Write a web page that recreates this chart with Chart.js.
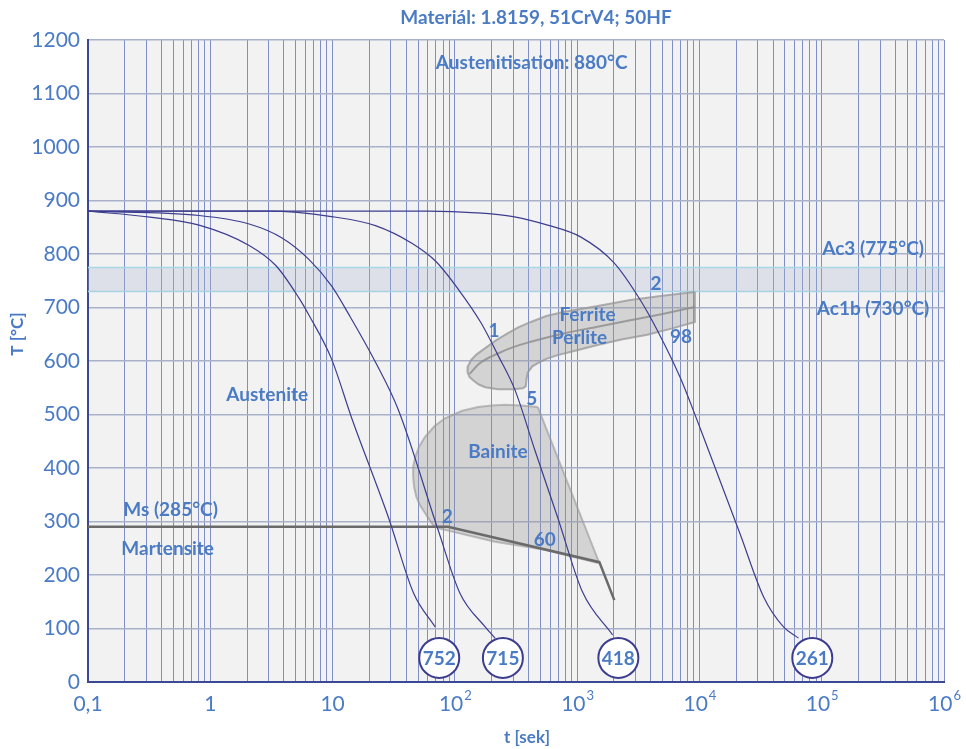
<!DOCTYPE html>
<html>
<head>
<meta charset="utf-8">
<script src="https://cdn.jsdelivr.net/npm/chart.js@4.4.1/dist/chart.umd.min.js"></script>
<style>
  html, body { margin: 0; padding: 0; background: #ffffff; }
  canvas { display: block; }
</style>
</head>
<body>
<canvas id="cct" width="966" height="749"></canvas>
<script>
// values: [t (s), T (°C)]
const curve752 = [[0.1,880],[0.32,869],[0.81,854],[2.08,816],[3.45,778],[5.3,718],[6.4,686],[9.8,604],[14.3,494],[28.6,308],[46,166],[69,103]];
const curve715 = [[0.1,880],[0.81,872],[2.08,856],[3.86,830],[6.4,790],[9.84,740],[13.5,688],[22.4,598],[34.6,508],[73,284],[110,166],[177,103],[213,82]];
const curve418 = [[0.1,880],[3,880],[9.8,870],[22.4,853],[44.5,820],[70,786],[106,735],[164,671],[225,611],[310,546],[450,434],[692,308],[1107,168],[1950,88]];
const curve261 = [[0.1,880],[60,880],[150,877],[300,870],[574,854],[1066,832],[2013,783],[3284,714],[4509,658],[6934,570],[9550,490],[10870,456],[21400,278],[33500,159],[48700,103],[64600,82]];
const msLine = [[0.1,290],[88,290],[1520,224],[2013,153]];
const ferriteOuter = [[9180,729],[5000,722],[2716,714],[1400,702],[789,692],[560,684],[418,673],[330,663],[272,652],[215,638],[177,624],[150,612],[136,602],[128,590],[127,579],[132,570],[141,564],[157,556],[177,551],[225,547],[300,547],[360,549],[380,553],[385,565],[394,578],[430,590],[477,596],[560,604],[692,611],[1000,620],[1466,630],[2300,640],[3741,649],[6000,661],[9180,673],[9180,729]];
const ferriteMid = [[132,576],[160,596],[225,614],[300,626],[418,636],[789,652],[1466,664],[2716,676],[5000,688],[9180,701]];
const bainiteArea = [[477,514],[350,517],[256,518],[200,517],[155,514],[115,507],[83,493],[68,478],[57,458],[51,440],[47.5,421],[45.6,402],[45.6,383],[46.5,364],[48.4,346],[52,330],[57,316],[62,303],[66.5,293],[75,287],[88,283],[213,262],[543,247],[1520,222],[477,514]];
const ac3 = 775;
const ac1b = 730;

const hardness = ['752', '715', '418', '261'];
const hardnessAt = [[74.5,45],[247,45],[2173,45],[83750,45]];

// text inside the plot: [text, t, T]
const labels = [
  ['Austenitisation: 880°C', 425, 1157],
  ['Ac3 (775°C)', 263000, 809],
  ['Ac1b (730°C)', 263000, 697],
  ['Ferrite', 1216, 686],
  ['Perlite', 1047, 643],
  ['1', 209, 656],
  ['2', 4424, 744],
  ['98', 7063, 645],
  ['5', 425, 529],
  ['Austenite', 2.92, 536],
  ['Bainite', 225, 430],
  ['Ms (285°C)', 0.473, 321],
  ['Martensite', 0.448, 249],
  ['2', 86.5, 308],
  ['60', 543, 265]
];

const decades = [0.1, 1, 10, 100, 1000, 10000, 100000, 1000000];
const xTickLabels = [['0,1',''],['1',''],['10',''],['10','2'],['10','3'],['10','4'],['10','5'],['10','6']];

const blueText = '#4a7bc4';
const curveColor = '#3d3d8f';

const xGrid = [];
decades.slice(0, -1).forEach(d => {
  for (let m = 1; m <= 9; m++) xGrid.push(m * d);
});
xGrid.push(1000000);

const pts = arr => arr.map(p => ({ x: p[0], y: p[1] }));
const curve = data => ({
  data: pts(data), showLine: true, pointRadius: 0, cubicInterpolationMode: 'monotone',
  borderColor: curveColor, borderWidth: 1.2, fill: false
});

const plotBackground = {
  id: 'plotBackground',
  beforeDraw(chart) {
    const a = chart.chartArea;
    const ctx = chart.ctx;
    ctx.save();
    ctx.fillStyle = '#f2f2f2';
    ctx.fillRect(a.left, a.top, a.right - a.left, a.bottom - a.top);
    ctx.restore();
  }
};

const texts = {
  id: 'texts',
  afterDraw(chart) {
    const ctx = chart.ctx;
    const xs = chart.scales.x, ys = chart.scales.y;
    ctx.save();
    ctx.fillStyle = blueText;
    ctx.textAlign = 'center';
    ctx.textBaseline = 'middle';

    ctx.font = 'bold 19px Lato';
    labels.forEach(l => {
      ctx.fillText(l[0], xs.getPixelForValue(l[1]), ys.getPixelForValue(l[2]));
    });

    hardness.forEach((h, i) => {
      ctx.fillText(h, xs.getPixelForValue(hardnessAt[i][0]), ys.getPixelForValue(hardnessAt[i][1]) + 1);
    });

    // x tick labels with exponents
    const yLab = chart.chartArea.bottom + 22;
    decades.forEach((d, i) => {
      const px = xs.getPixelForValue(d);
      const base = xTickLabels[i][0], sup = xTickLabels[i][1];
      ctx.font = '21px Lato';
      const wb = ctx.measureText(base).width;
      ctx.font = '13px Lato';
      const ws = sup ? ctx.measureText(sup).width : 0;
      const x0 = px - (wb + ws) / 2;
      ctx.textAlign = 'left';
      ctx.font = '21px Lato';
      ctx.fillText(base, x0, yLab);
      if (sup) {
        ctx.font = '13px Lato';
        ctx.fillText(sup, x0 + wb + 1, yLab - 8);
      }
    });

    ctx.textAlign = 'center';
    ctx.font = 'bold 19px Lato';
    ctx.fillText('Materiál: 1.8159, 51CrV4; 50HF', 536, 18);
    ctx.font = 'bold 17px Lato';
    ctx.fillText('t [sek]', 527, 738);

    ctx.translate(18, 334);
    ctx.rotate(-Math.PI / 2);
    ctx.fillText('T [°C]', 0, 0);
    ctx.restore();
  }
};

new Chart(document.getElementById('cct'), {
  type: 'scatter',
  data: {
    datasets: [
      {
        data: pts(hardnessAt), pointRadius: 20, pointHoverRadius: 20,
        backgroundColor: '#ffffff', borderColor: curveColor, borderWidth: 2
      },
      curve(curve752),
      curve(curve715),
      curve(curve418),
      curve(curve261),
      {
        data: pts(msLine), showLine: true, pointRadius: 0,
        borderColor: '#6a6a6a', borderWidth: 2.5
      },
      {
        data: pts(ferriteMid), showLine: true, pointRadius: 0, cubicInterpolationMode: 'monotone',
        borderColor: 'rgba(140,140,140,0.8)', borderWidth: 2
      },
      {
        data: pts(ferriteOuter), showLine: true, pointRadius: 0,
        borderColor: 'rgba(150,150,150,0.75)', borderWidth: 2,
        backgroundColor: 'rgba(150,150,150,0.33)', fill: 'shape'
      },
      {
        data: pts(bainiteArea), showLine: true, pointRadius: 0,
        borderColor: 'rgba(150,150,150,0.6)', borderWidth: 2,
        backgroundColor: 'rgba(150,150,150,0.33)', fill: 'shape'
      },
      {
        data: pts([[0.1, ac3], [1000000, ac3]]), showLine: true, pointRadius: 0,
        borderColor: '#a6d8e6', borderWidth: 1.5,
        backgroundColor: 'rgba(172,182,209,0.3)', fill: '+1'
      },
      {
        data: pts([[0.1, ac1b], [1000000, ac1b]]), showLine: true, pointRadius: 0,
        borderColor: '#a6d8e6', borderWidth: 1.5, fill: false
      }
    ]
  },
  options: {
    responsive: false,
    animation: false,
    layout: { padding: { top: 40, right: 18, left: 0, bottom: 0 } },
    plugins: { legend: { display: false }, tooltip: { enabled: false } },
    scales: {
      x: {
        type: 'logarithmic',
        min: 0.1,
        max: 1000000,
        afterBuildTicks: scale => { scale.ticks = xGrid.map(v => ({ value: v })); },
        afterFit: scale => { scale.height = 67; },
        ticks: { display: false },
        grid: { color: '#7f8ec6', lineWidth: 1, drawTicks: false },
        border: { color: '#3a4896', width: 2 }
      },
      y: {
        min: 0,
        max: 1200,
        afterFit: scale => { scale.width = 88; },
        ticks: {
          stepSize: 100, padding: 8, color: blueText,
          font: { family: 'Lato', size: 21 },
          callback: v => String(v)
        },
        grid: { color: '#a9b0c9', lineWidth: 1.5, drawTicks: false },
        border: { color: '#3a4896', width: 2 }
      }
    }
  },
  plugins: [plotBackground, texts]
});
</script>
</body>
</html>
